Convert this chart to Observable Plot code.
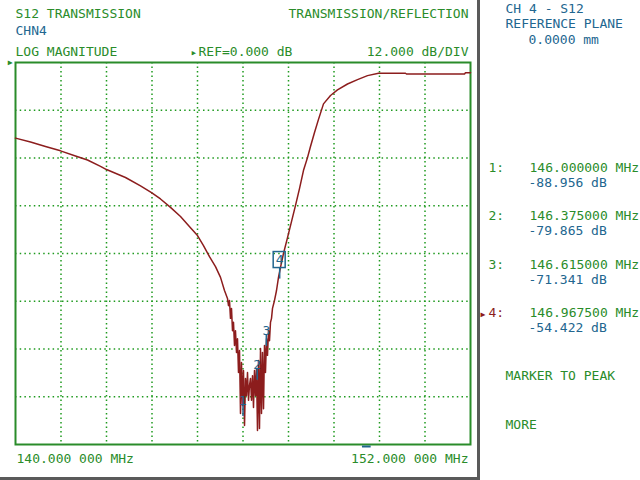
<!DOCTYPE html>
<html>
<head>
<meta charset="utf-8">
<script src="https://cdn.jsdelivr.net/npm/d3@7"></script>
<script src="https://cdn.jsdelivr.net/npm/@observablehq/plot@0.6"></script>
<style>
  html, body { margin: 0; padding: 0; background: #ffffff; }
  #chart { width: 640px; height: 480px; }
</style>
</head>
<body>
<div id="chart"></div>
<script>
// ---- data ----
const freqMHz = [
  140.000, 140.396, 140.791, 141.187, 141.582, 141.899, 142.242, 142.400, 142.901, 143.297,
  143.587, 143.824, 144.088, 144.352, 144.615, 144.800, 144.958, 145.116, 145.275, 145.407,
  145.512, 145.591, 145.618, 145.644, 145.670, 145.697, 145.723, 145.749, 145.776, 145.802,
  145.829, 145.855, 145.881, 145.908, 145.934, 145.960, 145.987, 146.013, 146.040, 146.066,
  146.092, 146.119, 146.145, 146.171, 146.198, 146.224, 146.251, 146.277, 146.303, 146.330,
  146.356, 146.382, 146.409, 146.435, 146.462, 146.488, 146.514, 146.541, 146.567, 146.593,
  146.620, 146.646, 146.673, 146.699, 146.725, 146.752, 146.778, 146.831, 146.884, 146.936,
  146.989, 147.068, 147.174, 147.279, 147.385, 147.490, 147.596, 147.701, 147.780, 147.886,
  147.991, 148.123, 148.308, 148.492, 148.756, 149.020, 149.284, 149.574, 150.286, 150.312,
  151.842, 151.868, 152.000
];
const s12dB = [
  -19.0, -20.0, -21.1, -22.2, -23.5, -24.5, -26.1, -26.9, -28.9, -31.0,
  -32.7, -34.3, -36.4, -38.7, -41.5, -43.5, -46.0, -48.8, -51.3, -54.0,
  -57.3, -59.3, -61.1, -59.8, -64.3, -61.8, -67.4, -65.3, -71.1, -67.4,
  -72.9, -69.4, -77.9, -72.4, -88.2, -75.4, -86.2, -77.4, -91.2, -79.4,
  -83.7, -77.9, -84.9, -81.2, -79.4, -84.9, -78.7, -86.7, -77.4, -83.7,
  -76.9, -92.5, -74.9, -92.0, -71.9, -88.2, -72.9, -87.0, -71.1, -77.9,
  -69.4, -73.6, -67.4, -69.9, -65.3, -64.3, -61.8, -59.8, -57.3, -54.0,
  -51.5, -48.0, -44.0, -40.0, -35.9, -31.7, -27.1, -23.9, -21.1, -17.6,
  -14.3, -10.4, -8.3, -6.9, -5.4, -4.3, -3.3, -2.7, -2.7, -2.9,
  -2.9, -2.6, -2.6
];
const markerIds = ["1", "2", "3", "4"];
const markerFreq = [146.000000, 146.375000, 146.615000, 146.967500];
const markerDb = [-88.956, -79.865, -71.341, -54.422];
const xGrid = [141.2, 142.4, 143.6, 144.8, 146.0, 147.2, 148.4, 149.6, 150.8];
const yGrid = [-12, -24, -36, -48, -60, -72, -84];
const startLabel = "140.000 000 MHz";
const stopLabel = "152.000 000 MHz";

const trace = freqMHz.map((f, i) => ({f, db: s12dB[i]}));
const markers = markerIds.map((id, i) => ({id, f: markerFreq[i], db: markerDb[i]}));

// ---- styles ----
const GREEN = "#2a8c2a";
const GRID = "#1f9a1f";
const BLUE = "#22668f";
const RED = "#8c1d1d";
const FONT = "DejaVu Sans Mono, Liberation Mono, monospace";

const ML = 15, MT = 62;
const L = (text, X, Y, fill, anchor = "start") =>
  Plot.text([text], {frameAnchor: "top-left", dx: X - ML, dy: Y - MT, text: d => d,
    fill, textAnchor: anchor, lineAnchor: "bottom"});

const readouts = markers.flatMap((m, i) => {
  const y0 = 171 + i * 48.5;
  const active = i === 3;
  return [
    L(m.id + ":", 488, y0, active ? RED : GREEN),
    L(m.f.toFixed(6) + " MHz", 529, y0, GREEN),
    L(m.db.toFixed(3) + " dB", 528, y0 + 15, BLUE)
  ];
});

const plot = Plot.plot({
  width: 640,
  height: 480,
  marginLeft: ML,
  marginRight: 170,
  marginTop: MT,
  marginBottom: 36,
  x: {domain: [140, 152], axis: null},
  y: {domain: [-96, 0], axis: null},
  style: {fontFamily: FONT, fontSize: "13px", background: "#ffffff"},
  marks: [
    Plot.ruleX(xGrid, {stroke: GRID, strokeWidth: 1.5, strokeDasharray: "1.5,3"}),
    Plot.ruleY(yGrid, {stroke: GRID, strokeWidth: 1.5, strokeDasharray: "1.5,3.2"}),
    Plot.frame({stroke: GREEN, strokeWidth: 2}),
    Plot.line(trace, {x: "f", y: "db", stroke: RED, strokeWidth: 1.5}),
    // marker ticks and labels
    Plot.ruleX(markers, {x: "f", y1: "db", y2: "db", insetTop: -11, stroke: BLUE, strokeWidth: 1.5}),
    Plot.text(markers.slice(0, 3), {x: "f", y: "db", text: "id", dy: -11, lineAnchor: "bottom", fill: BLUE}),
    Plot.rect(markers.slice(3), {x1: "f", x2: "f", y1: "db", y2: "db",
      insetLeft: -6, insetRight: -6, insetTop: -27, insetBottom: 11,
      fill: "none", stroke: BLUE, strokeWidth: 1.5}),
    Plot.text(markers.slice(3), {x: "f", y: "db", text: "id", dy: -19, lineAnchor: "middle", fill: BLUE}),
    // reference level indicator
    Plot.text([0], {x: 140, y: d => d, text: () => "▶", dx: -3, textAnchor: "end", lineAnchor: "middle", fontSize: 8, fill: GREEN}),
    // active marker indicator below frame
    Plot.ruleY([-96], {x1: 149.15, x2: 149.38, dy: 2, stroke: BLUE, strokeWidth: 2}),
    // start / stop labels
    Plot.text([startLabel], {x: 140, frameAnchor: "bottom", text: d => d, dx: 1, dy: 18, textAnchor: "start", lineAnchor: "bottom", fill: GREEN}),
    Plot.text([stopLabel], {x: 152, frameAnchor: "bottom", text: d => d, dx: -2, dy: 18, textAnchor: "end", lineAnchor: "bottom", fill: GREEN}),
    // header
    L("S12 TRANSMISSION", 15, 17, GREEN),
    L("TRANSMISSION/REFLECTION", 468, 17, GREEN, "end"),
    L("CHN4", 15, 34, BLUE),
    L("LOG MAGNITUDE", 15, 55, GREEN),
    Plot.text(["▸"], {frameAnchor: "top-left", dx: 190 - ML, dy: 55 - MT, text: d => d, fill: GREEN, textAnchor: "start", lineAnchor: "bottom", fontSize: 11}),
    L("REF=0.000 dB", 198, 55, GREEN),
    L("12.000 dB/DIV", 468, 55, GREEN, "end"),
    // right panel
    L("CH 4 - S12", 505, 12, BLUE),
    L("REFERENCE PLANE", 505, 27, BLUE),
    L("0.0000 mm", 528, 43, BLUE),
    Plot.text(["▶"], {frameAnchor: "top-left", dx: 480 - ML, dy: 316 - MT, text: d => d, fill: RED, textAnchor: "start", lineAnchor: "bottom", fontSize: 8}),
    ...readouts,
    L("MARKER TO PEAK", 505, 379, GREEN),
    L("MORE", 505, 428, GREEN)
  ]
});

const svg = d3.select(plot);
svg.append("line").attr("x1", 478.5).attr("x2", 478.5).attr("y1", 0).attr("y2", 480)
  .attr("stroke", "#5a5a5a").attr("stroke-width", 3);
svg.append("line").attr("x1", 0).attr("x2", 480).attr("y1", 478.5).attr("y2", 478.5)
  .attr("stroke", "#5a5a5a").attr("stroke-width", 3);

document.getElementById("chart").appendChild(plot);
</script>
</body>
</html>
